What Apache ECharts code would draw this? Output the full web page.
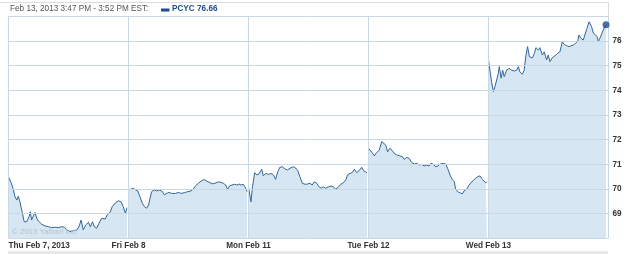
<!DOCTYPE html>
<html><head><meta charset="utf-8">
<script src="https://cdn.jsdelivr.net/npm/echarts@6/dist/echarts.min.js"></script>
<style>html,body{margin:0;padding:0;background:#fff}#c{width:625px;height:254px}</style>
</head><body><div id="c"></div>
<script>
// minutes since 9:30 open, price
const thuPrices = [[0,70.5],[5,70.57],[11,70.16],[16,69.96],[21,69.69],[27,69.55],[32,69.71],[37,69.48],[43,69.15],[51,68.67],[59,68.67],[67,68.88],[71,69.08],[75,68.74],[81,68.81],[86,69.05],[92,68.81],[97,68.7],[108,68.57],[119,68.5],[130,68.47],[140,68.43],[151,68.45],[162,68.43],[173,68.47],[182,68.45],[189,68.34],[200,68.27],[211,68.31],[222,68.34],[229,68.47],[236,68.74],[243,68.34],[251,68.54],[260,68.65],[266,68.47],[273,68.67],[279,68.47],[287,68.41],[294,68.61],[303,68.81],[314,68.78],[322,68.97],[330,69.05],[337,69.28],[346,69.42],[357,69.52],[366,69.48],[373,69.28],[380,69.01],[385,69.24]];
const friPrices = [[0,69.96],[8,69.99],[16,70.03],[23,69.96],[30,69.92],[37,69.69],[45,69.42],[52,69.28],[59,69.22],[65,69.35],[70,69.62],[75,69.89],[84,69.96],[92,69.92],[99,69.96],[108,69.92],[117,69.76],[124,69.82],[132,69.86],[140,69.82],[146,69.89],[153,69.82],[162,69.86],[171,69.82],[182,69.85],[192,69.89],[203,69.92],[211,70.0],[218,70.13],[227,70.23],[236,70.32],[246,70.38],[254,70.32],[262,70.27],[273,70.21],[281,70.23],[292,70.29],[300,70.27],[308,70.23],[316,70.16],[322,69.99],[329,70.13],[335,70.09],[344,70.19],[352,70.16],[359,70.2],[366,70.16],[373,70.19],[378,70.09],[382,70.0],[385,69.89]];
const monPrices = [[0,70.09],[8,69.48],[13,70.09],[20,70.66],[27,70.57],[34,70.61],[43,70.8],[48,70.53],[56,70.63],[65,70.59],[73,70.63],[81,70.57],[88,70.39],[95,70.7],[102,70.88],[110,70.9],[119,70.81],[127,70.77],[135,70.84],[146,70.9],[153,70.85],[160,70.74],[167,70.5],[175,70.23],[184,70.19],[192,70.2],[200,70.23],[207,70.16],[214,70.29],[222,70.23],[229,70.09],[236,70.03],[243,70.09],[251,70.03],[260,70.09],[268,70.12],[276,70.09],[283,69.99],[292,70.07],[300,70.19],[308,70.25],[316,70.36],[322,70.57],[330,70.63],[337,70.66],[344,70.8],[352,70.66],[359,70.74],[368,70.88],[374,70.74],[380,70.8],[385,70.66]];
const tuePrices = [[0,71.65],[12,71.47],[19,71.34],[24,71.44],[30,71.38],[35,71.58],[43,71.92],[49,71.88],[56,71.78],[62,71.51],[70,71.65],[77,71.55],[84,71.44],[92,71.38],[97,71.42],[102,71.34],[110,71.31],[116,71.2],[124,71.28],[132,71.24],[140,71.08],[149,71.01],[157,71.04],[164,70.97],[173,71.0],[181,70.93],[189,70.97],[197,70.93],[203,71.04],[211,71.0],[218,70.9],[225,70.93],[232,71.0],[243,71.04],[251,71.01],[257,70.84],[265,70.57],[272,70.39],[279,70.29],[283,69.99],[290,69.89],[297,69.85],[305,69.8],[311,69.93],[319,69.99],[327,70.16],[333,70.23],[341,70.36],[348,70.43],[355,70.5],[362,70.53],[370,70.39],[376,70.43],[381,70.25],[385,70.29]];
const wedPrices = [[0,75.23],[10,74.35],[16,73.94],[21,74.15],[27,74.21],[32,74.69],[35,74.96],[41,74.49],[46,74.82],[51,74.55],[59,74.82],[67,74.89],[75,74.82],[84,74.78],[92,74.82],[97,74.96],[102,74.75],[110,74.65],[116,74.82],[121,75.36],[127,75.77],[133,75.36],[138,75.43],[143,75.32],[149,75.5],[154,75.73],[162,75.63],[167,75.73],[175,75.43],[181,75.56],[189,75.23],[194,75.43],[200,75.16],[207,75.32],[216,75.4],[225,75.5],[232,75.56],[240,75.97],[246,75.86],[254,75.81],[262,75.77],[268,75.7],[276,75.84],[283,75.9],[290,76.0],[294,76.24],[300,76.11],[308,76.04],[313,76.24],[320,76.51],[327,76.78],[331,76.81],[335,76.58],[341,76.31],[346,76.38],[353,76.18],[357,75.97],[362,76.11],[368,76.04],[373,76.45],[382,76.66]];
const dayLabels = ['Thu Feb 7, 2013','Fri Feb 8','Mon Feb 11','Tue Feb 12','Wed Feb 13'];
const yTicks = [68,69,70,71,72,73,74,75,76,77];
const dayMinutes = 390;
const days = [thuPrices, friPrices, monPrices, tuePrices, wedPrices];

const chart = echarts.init(document.getElementById('c'), null, {renderer:'canvas'});
const FONT = '"Liberation Sans", Arial, sans-serif';
const lineColor = '#336699';
const fillColor = '#d6e6f2';
const gridColor = '#c9d8e4';

const series = days.map((d, i) => ({
  type: 'line',
  data: d.map(p => [i * dayMinutes + p[0], p[1]]),
  showSymbol: false,
  symbol: 'none',
  lineStyle: { color: lineColor, width: 1 },
  areaStyle: { color: fillColor, opacity: 1, origin: 'start' },
  silent: true,
  animation: false,
  z: 2
}));
const last = wedPrices[wedPrices.length - 1];
series.push({
  type: 'scatter',
  data: [[4 * dayMinutes + last[0], last[1]]],
  symbolSize: 7,
  itemStyle: { color: '#1d4f8c' },
  animation: false,
  z: 5
});

chart.setOption({
  animation: false,
  grid: { left: 8.5, right: 16.5, top: 16.3, bottom: 15.7, containLabel: false },
  xAxis: {
    type: 'value', min: 0, max: dayLabels.length * dayMinutes, interval: dayMinutes,
    z: 3,
    axisLine: { show: false }, axisTick: { show: false },
    splitLine: { show: true, lineStyle: { color: gridColor, width: 1 } },
    axisLabel: {
      show: true, margin: 3, fontFamily: FONT, fontSize: 8.2, fontWeight: 'bold', color: '#333',
      showMaxLabel: false, alignMinLabel: 'left',
      formatter: v => dayLabels[Math.round(v / dayMinutes)] || ''
    }
  },
  yAxis: {
    type: 'value', position: 'right', min: yTicks[0], max: yTicks[yTicks.length - 1], interval: 1,
    z: 3,
    axisLine: { show: false },
    axisTick: { show: false },
    splitLine: { show: true, lineStyle: { color: gridColor, width: 1 } },
    axisLabel: {
      show: true, margin: 4, fontFamily: FONT, fontSize: 8.2, fontWeight: 'bold', color: '#333',
      showMinLabel: false, showMaxLabel: false
    }
  },
  series: series,
  graphic: [
    { type: 'line', shape: { x1: 0, y1: 2.5, x2: 608.5, y2: 2.5 }, style: { stroke: '#dddddd', lineWidth: 1 }, silent: true },
    { type: 'line', shape: { x1: 608.5, y1: 2.5, x2: 608.5, y2: 16.5 }, style: { stroke: '#dddddd', lineWidth: 1 }, silent: true },
    { type: 'text', left: 10, top: 5, style: { text: 'Feb 13, 2013 3:47 PM - 3:52 PM EST:', font: '8.2px ' + FONT, fill: '#555' }, silent: true },
    { type: 'rect', shape: { x: 161, y: 8.5, width: 8.5, height: 3 }, style: { fill: '#1d4f8c' }, silent: true },
    { type: 'text', left: 172, top: 5, style: { text: 'PCYC 76.66', font: 'bold 8.2px ' + FONT, fill: '#1d4f8c' }, silent: true },
    { type: 'text', left: 12, top: 228, z: 10, style: { text: '\u00a9 2013 Yahoo! Inc.', font: '7.8px ' + FONT, fill: '#b3c0ca' }, silent: true },
    { type: 'rect', shape: { x: 8, y: 251, width: 600, height: 3 }, style: { fill: '#e8e8e8' }, silent: true }
  ]
});
</script></body></html>
